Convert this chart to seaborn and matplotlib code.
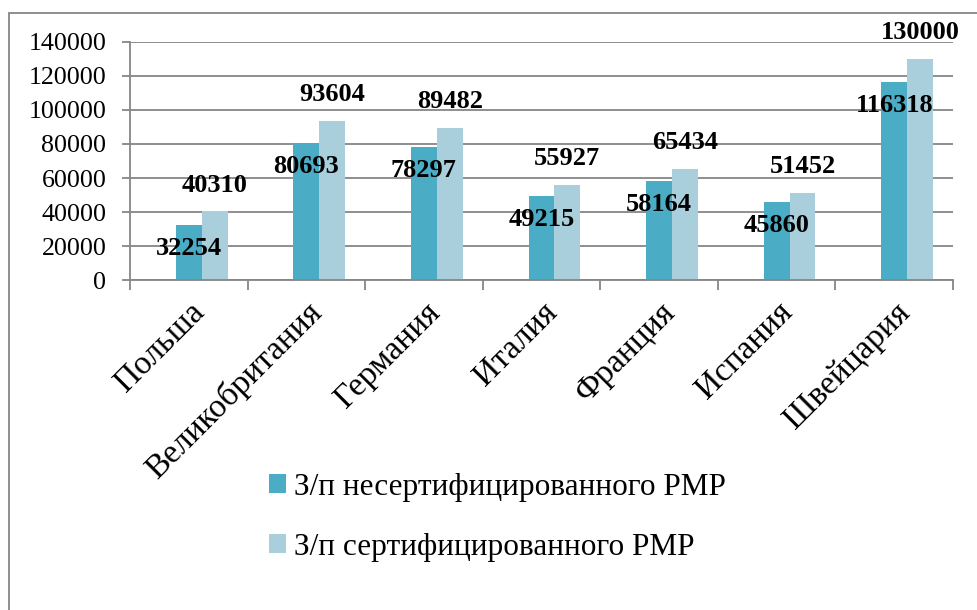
import matplotlib
matplotlib.use('Agg')
import matplotlib.pyplot as plt
import seaborn as sns
import pandas as pd
import numpy as np
from matplotlib.patches import Rectangle, Patch
import matplotlib.transforms as mtransforms

countries = ['Польша', 'Великобритания', 'Германия', 'Италия', 'Франция', 'Испания', 'Швейцария']
uncert = [32254, 80693, 78297, 49215, 58164, 45860, 116318]
cert = [40310, 93604, 89482, 55927, 65434, 51452, 130000]
series_names = ['З/п несертифицированного РМР', 'З/п сертифицированного РМР']
yticks = [0, 20000, 40000, 60000, 80000, 100000, 120000, 140000]

sns.set_theme(style='white')
plt.rcParams['font.family'] = ['Liberation Serif', 'DejaVu Serif']
plt.rcParams['text.color'] = 'black'
plt.rcParams['xtick.color'] = 'black'
plt.rcParams['ytick.color'] = 'black'
plt.rcParams['xtick.labelcolor'] = 'black'
plt.rcParams['ytick.labelcolor'] = 'black'

blank = '_empty'
df = pd.DataFrame({
    'country': countries * 3,
    'value': [0] * len(countries) + uncert + cert,
    'series': [blank] * len(countries) + [series_names[0]] * len(countries) + [series_names[1]] * len(countries),
})
hue_order = [blank] + series_names
colors = {blank: '#FFFFFF', series_names[0]: '#4BACC6', series_names[1]: '#A9CFDD'}

fig = plt.figure(figsize=(9.78, 6.10), dpi=100)
ax = fig.add_axes([130/978, 1-280/610, (953-130)/978, (280-42)/610])

sns.barplot(data=df, x='country', y='value', hue='series',
            hue_order=hue_order, order=countries,
            palette=colors, width=0.66, gap=0, saturation=1,
            linewidth=0, legend=False, ax=ax)

ax.set_ylim(0, 140000)
ax.set_yticks(yticks)
ax.set_yticklabels([str(v) for v in yticks], fontsize=18.7)
ax.set_xlim(-0.5, len(countries) - 0.5)
ax.set_xlabel('')
ax.set_ylabel('')
ax.grid(axis='y', color='#868686', linewidth=1.3)
ax.set_axisbelow(True)
for s in ['top', 'right']:
    ax.spines[s].set_visible(False)
for s in ['left', 'bottom']:
    ax.spines[s].set_color('#868686')
    ax.spines[s].set_linewidth(1.3)
ax.tick_params(axis='y', length=6, width=1.3, color='#868686', pad=11, left=True)
ax.set_xticks(range(len(countries)))
ax.tick_params(axis='x', which='major', length=0, pad=20)
ax.set_xticks(np.arange(len(countries) + 1) - 0.5, minor=True)
ax.tick_params(axis='x', which='minor', length=7, width=1.3, color='#868686', bottom=True)

offset = mtransforms.ScaledTranslation(8/72, 0, fig.dpi_scale_trans)
ax.set_xticklabels(countries, rotation=45, ha='right', va='center',
                   rotation_mode='anchor', fontsize=24)
for lab in ax.get_xticklabels():
    lab.set_transform(lab.get_transform() + offset)

# containers follow hue order
for cont, name in zip(ax.containers, hue_order):
    if name == series_names[0]:
        dy = -17
    elif name == series_names[1]:
        dy = 19
    else:
        continue
    for rect in cont:
        h = rect.get_height()
        ax.annotate(f'{int(round(h))}', (rect.get_x() + rect.get_width()/2, h),
                    xytext=(0, dy), textcoords='offset points',
                    ha='center', va='center', fontsize=19, fontweight='bold',
                    color='black')

handles = [Patch(facecolor=colors[n], edgecolor='none') for n in series_names]
fig.legend(handles, series_names, loc='upper left', bbox_to_anchor=(256/978, 1-460/610),
           frameon=False, fontsize=22.5, handlelength=0.55, handleheight=0.55,
           handletextpad=0.25, labelspacing=1.0, borderaxespad=0)

# outer chart border: only left and top edges are visible in the frame
fig.patches.append(Rectangle((9/978, -0.05), 1.1, 1.05 - 13/610,
                             transform=fig.transFigure, fill=False,
                             edgecolor='#868686', linewidth=1.3))

fig.savefig('out.png', dpi=100)
